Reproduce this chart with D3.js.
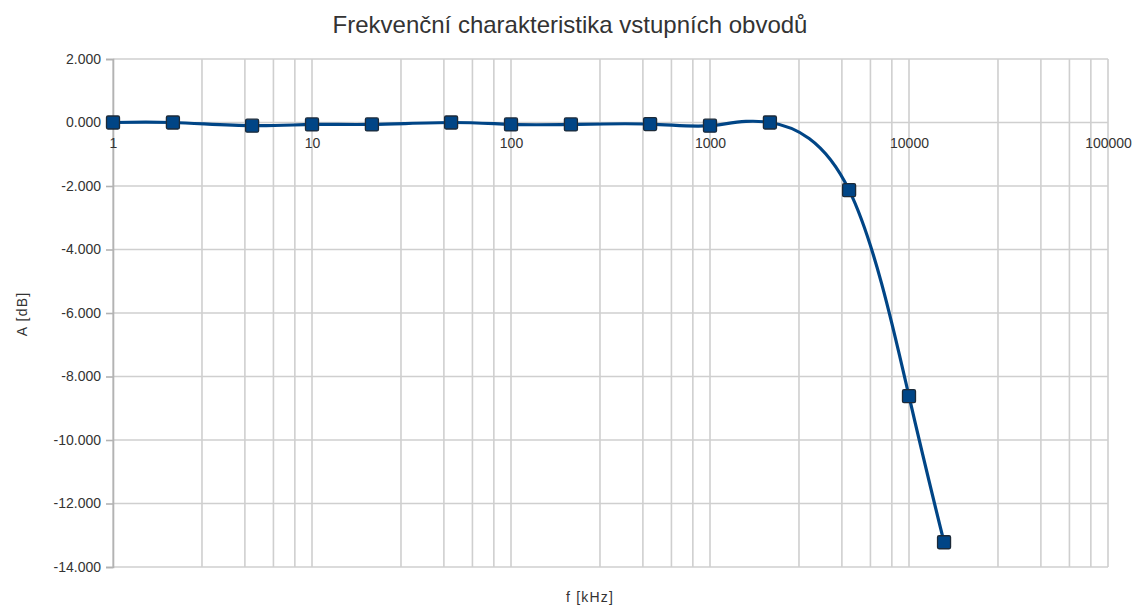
<!DOCTYPE html>
<html><head><meta charset="utf-8">
<script src="https://cdn.jsdelivr.net/npm/d3@7"></script>
<style>body{margin:0;background:#fff}svg{display:block}text{font-family:"Liberation Sans",Arial,sans-serif}</style>
</head><body>
<svg id="c" width="1140" height="608"></svg>
<script>
const freqs = [1, 2, 5, 10, 20, 50, 100, 200, 500, 1000, 2000, 5000, 10000, 15000];
const gains = [0, 0, -0.1, -0.06, -0.06, 0, -0.06, -0.06, -0.05, -0.1, 0, -2.13, -8.62, -13.22];
const xTicks = [1, 10, 100, 1000, 10000, 100000];
const yTicks = [2, 0, -2, -4, -6, -8, -10, -12, -14];
const title = "Frekvenční charakteristika vstupních obvodů";
const xTitle = "f [kHz]";
const yTitle = "A [dB]";

const svg = d3.select("#c");
const L = 113, R = 1108, T = 59, B = 567;
const x = d3.scaleLog().domain([1, 100000]).range([L, R]);
const y = d3.scaleLinear().domain([-14, 2]).range([B, T]);

// minor grid (linear subdivisions within each decade)
const minor = [];
for (let d = 0; d < 5; d++) for (let k = 1; k <= 4; k++) minor.push(Math.pow(10, d) * (1 + 1.8 * k));
const g = svg.append("g");
g.selectAll(".mg").data(minor).join("line")
  .attr("x1", d => x(d)).attr("x2", d => x(d)).attr("y1", T).attr("y2", B)
  .attr("stroke", "#cfcfcf").attr("stroke-width", 1.6);
g.selectAll(".vg").data(xTicks).join("line")
  .attr("x1", d => x(d)).attr("x2", d => x(d)).attr("y1", T).attr("y2", B)
  .attr("stroke", "#cfcfcf").attr("stroke-width", 1.6);
g.selectAll(".hg").data(yTicks).join("line")
  .attr("x1", L).attr("x2", R).attr("y1", d => y(d)).attr("y2", d => y(d))
  .attr("stroke", "#cfcfcf").attr("stroke-width", 1.6);

// y axis
const yAxis = d3.axisLeft(y).tickValues(yTicks).tickSize(7).tickPadding(5)
  .tickFormat(d => d3.format(".3f")(d).replace("−", "-"));
const ya = svg.append("g").attr("transform", `translate(${L},0)`).call(yAxis);
ya.select(".domain").attr("stroke", "#b3b3b3").attr("stroke-width", 1.6);
ya.selectAll(".tick line").attr("stroke", "#b3b3b3").attr("stroke-width", 1.6);
ya.selectAll(".tick text").attr("font-size", 14).attr("fill", "#333").attr("font-family", "Liberation Sans, Arial, sans-serif");

// x tick labels along zero line
const xAxis = d3.axisBottom(x).tickValues(xTicks).tickSize(0).tickPadding(15.5).tickFormat(d => String(d));
const xa = svg.append("g").attr("transform", `translate(0,${y(0)})`).call(xAxis);
xa.select(".domain").remove();
xa.selectAll(".tick text").attr("font-size", 14).attr("fill", "#333").attr("font-family", "Liberation Sans, Arial, sans-serif");

// line
const pts = freqs.map((f, i) => [x(f), y(gains[i])]);
svg.append("path").attr("d", d3.line().curve(d3.curveNatural)(pts))
  .attr("fill", "none").attr("stroke", "#004586").attr("stroke-width", 3.2);
svg.selectAll(".m").data(pts).join("rect")
  .attr("x", d => d[0] - 6.5).attr("y", d => d[1] - 6.5).attr("width", 13).attr("height", 13).attr("rx", 1.5)
  .attr("fill", "#004586").attr("stroke", "#1c2a38").attr("stroke-width", 1.3);

// titles
svg.append("text").attr("x", 570).attr("y", 33).attr("text-anchor", "middle")
  .attr("font-size", 24).attr("fill", "#333").text(title);
svg.append("text").attr("x", 590).attr("y", 602).attr("text-anchor", "middle")
  .attr("font-size", 14).attr("letter-spacing", 1.2).attr("fill", "#333").text(xTitle);
svg.append("text").attr("transform", "translate(27,314) rotate(-90)").attr("text-anchor", "middle")
  .attr("font-size", 14).attr("letter-spacing", 1.2).attr("fill", "#333").text(yTitle);
</script>
</body></html>
